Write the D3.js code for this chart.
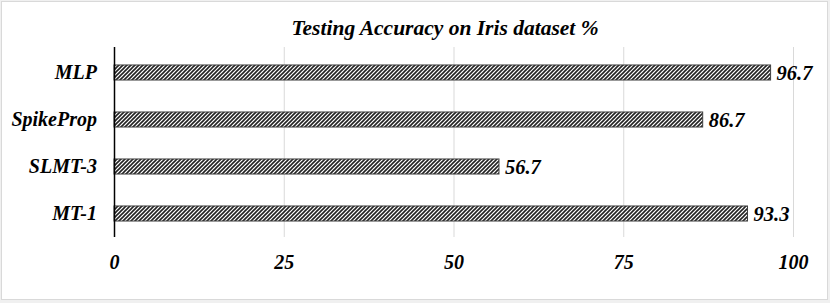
<!DOCTYPE html>
<html>
<head>
<meta charset="utf-8">
<script src="https://cdn.jsdelivr.net/npm/d3@7"></script>
<style>
  body { margin: 0; background: #f0f0f0; }
  svg { display: block; }
</style>
</head>
<body>
<svg id="chart" width="830" height="303"></svg>
<script>
// data
const title = "Testing Accuracy on Iris dataset %"
const categories = ["MLP", "SpikeProp", "SLMT-3", "MT-1"]
const values = [96.7, 86.7, 56.7, 93.3]
const tickValues = [0, 25, 50, 75, 100]

const W = 830, H = 303
const margin = {left: 114, right: 37, top: 49, bottom: 66}
const font = "'Liberation Serif', 'Times New Roman', serif"

var svg = d3.select("#chart")

// chart area //
svg.append("rect")
    .attr("x", 1.5).attr("y", 1.5)
    .attr("width", 826).attr("height", 298)
    .attr("fill", "#fff")
    .attr("stroke", "#d9d9d9")

// hatch pattern //
var pat = svg.append("defs").append("pattern")
    .attr("id", "hatch")
    .attr("patternUnits", "userSpaceOnUse")
    .attr("width", 4).attr("height", 4)
pat.append("rect").attr("width", 4).attr("height", 4).attr("fill", "#fff")
pat.append("path")
    .attr("d", "M-1,1 l2,-2 M0,4 l4,-4 M3,5 l2,-2")
    .attr("stroke", "#222")
    .attr("stroke-width", 1.6)

var x = d3.scaleLinear()
    .domain([0, 100])
    .range([margin.left, W - margin.right])

var y = d3.scaleBand()
    .domain(categories)
    .range([margin.top, H - margin.bottom])
    .paddingInner(0.68)
    .paddingOuter(0.34)

// gridlines //
svg.append("g")
    .selectAll("line")
    .data(tickValues.slice(1))
    .join("line")
    .attr("x1", d => x(d) + 0.5).attr("x2", d => x(d) + 0.5)
    .attr("y1", margin.top - 2).attr("y2", H - margin.bottom)
    .attr("stroke", "#d9d9d9")

// bars //
svg.append("g")
    .selectAll("rect")
    .data(categories)
    .join("rect")
    .attr("x", x(0))
    .attr("y", d => y(d))
    .attr("width", (d, i) => x(values[i]) - x(0))
    .attr("height", y.bandwidth())
    .attr("fill", "url(#hatch)")
    .attr("stroke", "#404040")
    .attr("stroke-width", 1)

// value labels //
svg.append("g")
    .selectAll("text")
    .data(categories)
    .join("text")
    .attr("x", (d, i) => x(values[i]) + 6)
    .attr("y", d => y(d) + y.bandwidth() / 2)
    .attr("dy", "0.35em")
    .attr("font-family", font)
    .attr("font-size", 20.5)
    .attr("font-weight", "bold")
    .attr("font-style", "italic")
    .attr("fill", "#000")
    .text((d, i) => values[i].toFixed(1))

// y axis //
var yAxis = svg.append("g")
    .attr("transform", `translate(${x(0)},0)`)
    .call(d3.axisLeft(y).tickSize(0).tickPadding(17))
yAxis.select(".domain")
    .attr("d", `M0.5,${margin.top - 2}V${H - margin.bottom}`)
    .attr("stroke", "#000")
    .attr("stroke-width", 1.5)
yAxis.selectAll("text")
    .attr("font-family", font)
    .attr("font-size", 20)
    .attr("font-weight", "bold")
    .attr("font-style", "italic")
    .attr("fill", "#000")

// x axis labels //
var xAxis = svg.append("g")
    .attr("transform", `translate(0,${H - margin.bottom})`)
    .call(d3.axisBottom(x).tickValues(tickValues).tickSize(0).tickPadding(18))
xAxis.select(".domain").remove()
xAxis.selectAll("text")
    .attr("font-family", font)
    .attr("font-size", 20)
    .attr("font-weight", "bold")
    .attr("font-style", "italic")
    .attr("fill", "#000")

// title //
svg.append("text")
    .attr("x", 445)
    .attr("y", 35)
    .attr("text-anchor", "middle")
    .attr("font-family", font)
    .attr("font-size", 21.5)
    .attr("font-weight", "bold")
    .attr("font-style", "italic")
    .text(title)
</script>
</body>
</html>
